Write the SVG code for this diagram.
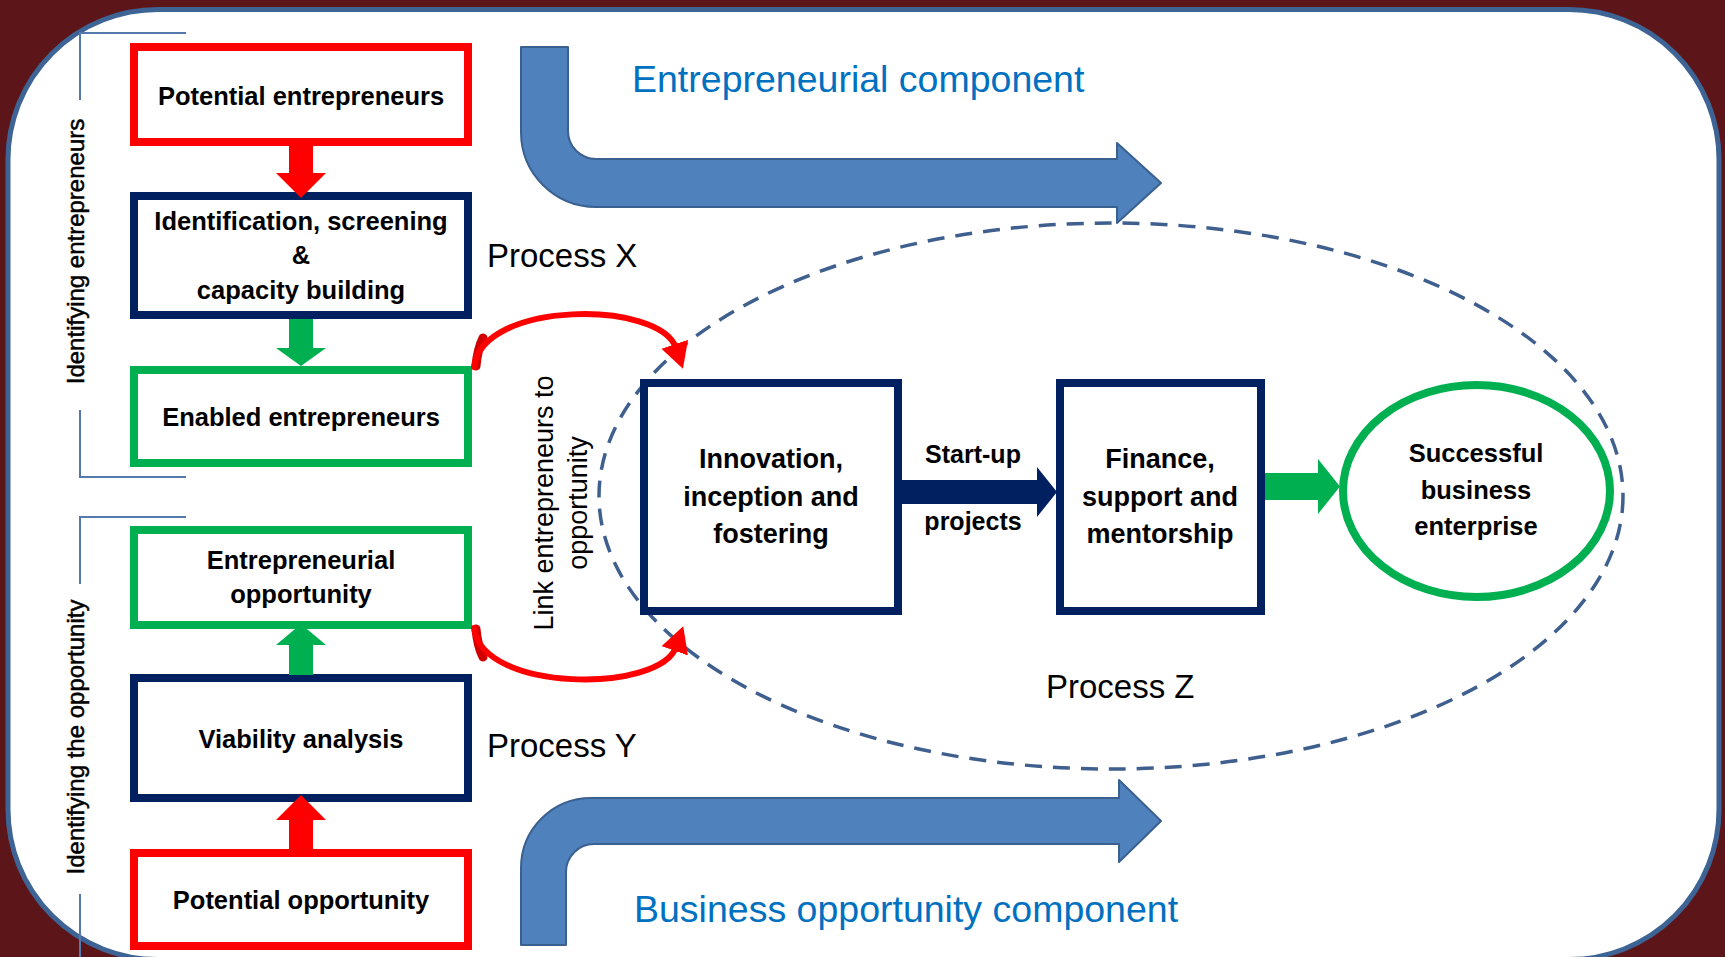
<svg xmlns="http://www.w3.org/2000/svg" width="1725" height="957" viewBox="0 0 1725 957">
<style>
.bg{fill:#5C161A}
.panel{fill:#FFFFFF;stroke:#3D6494;stroke-width:5}
.bracket{fill:none;stroke:#5479AC;stroke-width:2}
.box{fill:#FFFFFF;stroke-width:8}
.red{stroke:#FF0000}
.navy{stroke:#002060}
.green{stroke:#00B050}
.t{font-family:'Liberation Sans',Arial,sans-serif;fill:#000000}
.b{font-weight:bold;text-anchor:middle;font-size:25.5px}
.ctr{font-size:27px}
.sm{font-size:25px}
.side{font-size:24px;text-anchor:middle;stroke:#000000;stroke-width:0.5}
.link{font-size:27px;text-anchor:middle}
.proc{font-size:33px}
.comp{font-size:37.5px;fill:#0070C0}
.blk{fill:#4F81BD;stroke:#3A6090;stroke-width:2;stroke-linejoin:round}
.dash{fill:none;stroke:#3F5F8F;stroke-width:3.5;stroke-dasharray:17 11}
.arc{fill:none;stroke:#FF0000;stroke-width:6;stroke-linecap:round}
.arcd{fill:none;stroke:#D00000;stroke-width:9;stroke-linecap:round}
</style>
<defs>
<marker id="redhead" markerUnits="userSpaceOnUse" markerWidth="30" markerHeight="30" refX="4" refY="14" orient="auto">
<path d="M0,0 L26,14 L0,28 z" fill="#FF0000"/>
</marker>
</defs>

<rect class="bg" x="0" y="0" width="1725" height="957"/>
<rect class="panel" x="8" y="9.5" width="1711" height="950" rx="150" ry="150"/>

<g id="brackets">
<path class="bracket" d="M186 33 H80 V100 M80 410 V477 H186"/>
<path class="bracket" d="M186 517 H80 V584 M80 894 V960"/>
<text class="t side" transform="translate(84,251.5) rotate(-90)">Identifying entrepreneurs</text>
<text class="t side" transform="translate(84,737) rotate(-90)">Identifying the opportunity</text>
</g>

<g id="process-z">
<ellipse class="dash" cx="1111" cy="496" rx="512" ry="273"/>
<text class="t proc" x="1046" y="698">Process Z</text>
</g>

<g id="entrepreneurial-component">
<path class="blk" d="M521 47 V132 A75 75 0 0 0 596 207 H1117 V223 L1161 183 L1117 143 V159 H596 A28 28 0 0 1 568 131 V47 Z"/>
<text class="t comp" x="632" y="92">Entrepreneurial component</text>
</g>

<g id="business-opportunity-component">
<path class="blk" d="M521 945 V868 A70 70 0 0 1 591 798 H1119 V780 L1161 821 L1119 862 V844 H594 A28 28 0 0 0 566 872 V945 Z"/>
<text class="t comp" x="634" y="922">Business opportunity component</text>
</g>

<g id="process-labels">
<text class="t proc" x="487" y="267">Process X</text>
<text class="t proc" x="487" y="757">Process Y</text>
</g>

<g id="potential-entrepreneurs">
<rect class="box red" x="134" y="47" width="334" height="95"/>
<text class="t b" x="301" y="105">Potential entrepreneurs</text>
</g>
<g id="identification">
<rect class="box navy" x="134" y="196" width="334" height="119"/>
<text class="t b" x="301" y="230">Identification, screening</text>
<text class="t b" x="301" y="264">&amp;</text>
<text class="t b" x="301" y="299">capacity building</text>
</g>
<g id="enabled-entrepreneurs">
<rect class="box green" x="134" y="370" width="334" height="93"/>
<text class="t b" x="301" y="426">Enabled entrepreneurs</text>
</g>
<g id="entrepreneurial-opportunity">
<rect class="box green" x="134" y="530" width="334" height="95"/>
<text class="t b" x="301" y="569">Entrepreneurial</text>
<text class="t b" x="301" y="603">opportunity</text>
</g>
<g id="viability-analysis">
<rect class="box navy" x="134" y="678" width="334" height="120"/>
<text class="t b" x="301" y="748">Viability analysis</text>
</g>
<g id="potential-opportunity">
<rect class="box red" x="134" y="853" width="334" height="93"/>
<text class="t b" x="301" y="909">Potential opportunity</text>
</g>

<g id="link-label">
<text class="t link" transform="translate(553,503) rotate(-90)">Link entrepreneurs to</text>
<text class="t link" transform="translate(587,503) rotate(-90)">opportunity</text>
</g>

<g id="innovation">
<rect class="box navy" x="644" y="383" width="254" height="228"/>
<text class="t b ctr" x="771" y="468">Innovation,</text>
<text class="t b ctr" x="771" y="506">inception and</text>
<text class="t b ctr" x="771" y="543">fostering</text>
</g>
<g id="finance">
<rect class="box navy" x="1060" y="383" width="201" height="228"/>
<text class="t b ctr" x="1160" y="468">Finance,</text>
<text class="t b ctr" x="1160" y="506">support and</text>
<text class="t b ctr" x="1160" y="543">mentorship</text>
</g>
<g id="successful-enterprise">
<ellipse cx="1476.5" cy="491" rx="133.5" ry="106" fill="#FFFFFF" stroke="#00B050" stroke-width="8"/>
<text class="t b" x="1476" y="462" font-size="25">Successful</text>
<text class="t b" x="1476" y="499" font-size="25">business</text>
<text class="t b" x="1476" y="535" font-size="25">enterprise</text>
</g>

<g id="connectors">
<polygon fill="#FF0000" points="289,146 313,146 313,173 326,173 301,198 276,173 289,173"/>
<polygon fill="#00B050" points="289,319 313,319 313,348 326,348 301,366 276,348 289,348"/>
<polygon fill="#00B050" points="289,675 313,675 313,645 326,645 301,624 276,645 289,645"/>
<polygon fill="#FF0000" points="289,849 313,849 313,820 326,820 301,795 276,820 289,820"/>
<path class="arcd" d="M476 366 C477 355 479 346 483 338"/>
<path class="arc" d="M474 367 C482 300 660 300 676 348" marker-end="url(#redhead)"/>
<path class="arcd" d="M476 629 C477 640 479 649 483 657"/>
<path class="arc" d="M474 628 C482 693 660 693 676 647" marker-end="url(#redhead)"/>
<polygon fill="#002060" points="902,480 1037,480 1037,467 1057,492 1037,517 1037,504 902,504"/>
<text class="t b sm" x="973" y="463">Start-up</text>
<text class="t b sm" x="973" y="530">projects</text>
<polygon fill="#00B050" points="1265,473 1318,473 1318,459 1340,486.5 1318,514 1318,500 1265,500"/>
</g>
</svg>
